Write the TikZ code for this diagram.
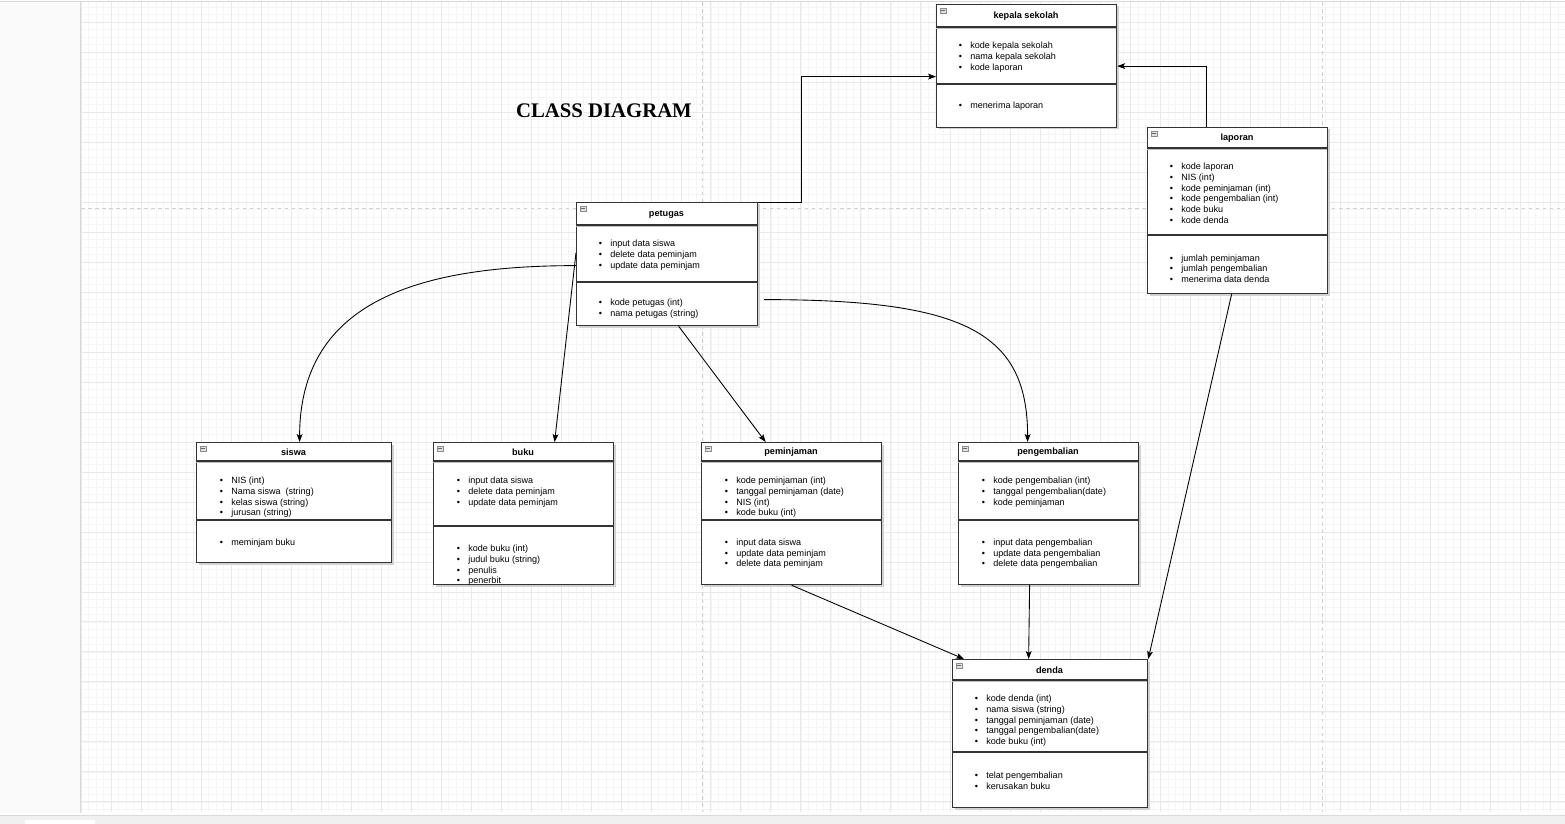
\documentclass[tikz,border=0pt]{standalone}
\usepackage{fontspec}
\setmainfont{Liberation Sans}
\newfontfamily\judulfont{Liberation Serif}
\usetikzlibrary{arrows.meta}

\definecolor{garis}{HTML}{333333}
\definecolor{grida}{HTML}{F5F5F5}
\definecolor{gridb}{HTML}{E9E9E9}

\tikzset{
  kotak/.style={draw=garis, line width=0.7pt, fill=white, inner sep=0pt, anchor=north west},
  isi/.style={anchor=west, inner sep=0pt, align=left, xshift=0.03cm, yshift=-0.025cm, font=\fontsize{5.15}{6.2}\selectfont},
  judulkelas/.style={font=\fontsize{5.2}{6}\selectfont\bfseries, inner sep=0pt, yshift=-0.02cm},
  panah/.style={-{Stealth[length=4.5pt,width=3.3pt,inset=1pt]}, line width=0.5pt, black},
  putus/.style={black!18, line width=0.4pt, dash pattern=on 2pt off 2pt},
}

% bullet item
\newcommand{\itm}[1]{\makebox[0.23cm][l]{\textbullet}#1}

% class frame: name, x, y, w, h, header, divider, title
\newcommand{\kelas}[8]{%
  \fill[black!18] (#2+2.5,#3+2.5) rectangle (#2+#4+2.5,#3+#5+2.5);
  \node[kotak, minimum width=#4*0.02cm, minimum height=#5*0.02cm] (#1) at (#2,#3) {};
  \draw[black!25, line width=0.6pt] (#2,#3+#6+1.8) -- (#2+#4,#3+#6+1.8);
  \draw[garis, line width=0.7pt] (#2,#3+#6) -- (#2+#4,#3+#6);
  \draw[garis, line width=0.7pt] (#2,#3+#7) -- (#2+#4,#3+#7);
  \draw[black!45, fill=black!12, line width=0.3pt] (#2+4,#3+4) rectangle (#2+10,#3+9);
  \draw[black!60, line width=0.4pt] (#2+5,#3+6.5) -- (#2+9,#3+6.5);
  \node[judulkelas] (#1-judul) at (#2+#4/2,#3+#6/2) {#8};
}

\begin{document}
\begin{tikzpicture}[x=0.02cm, y=-0.02cm]
\useasboundingbox (0,0) rectangle (1565,824);
\fill[white] (0,0) rectangle (1565,824);

% canvas
\fill[black!2] (0,0) rectangle (80,813);
\draw[black!15, line width=0.5pt] (80.5,2) -- (80.5,813);
\draw[black!15, line width=0.5pt] (0,1.5) -- (1565,1.5);
\begin{scope}[shift={(81,22)}]
\draw[grida, line width=0.35pt, step=0.15cm] (0,-20) grid (1484,790);
\draw[gridb, line width=0.45pt, step=0.6cm] (0,-20) grid (1484,790);
\end{scope}
\draw[putus] (702,2) -- (702,812);
\draw[putus] (1322,2) -- (1322,812);
\draw[putus] (81,208) -- (1565,208);
\fill[black!6] (0,815) rectangle (1565,824);
\draw[black!15, line width=0.5pt] (0,815) -- (1565,815);
\fill[white] (25,819.5) rectangle (95,824);

\node[font=\judulfont\fontsize{11.8}{13}\selectfont\bfseries] (judul) at (604,111) {CLASS DIAGRAM};

% classes
\kelas{kepala}{936}{4}{180}{123}{23}{80}{kepala sekolah}
\node[isi] (kepala-a) at (957,56) {\itm{kode kepala sekolah}\\\itm{nama kepala sekolah}\\\itm{kode laporan}};
\node[isi] (kepala-m) at (957,105) {\itm{menerima laporan}};

\kelas{laporan}{1147}{127}{180}{166}{21}{108}{laporan}
\node[isi] (laporan-a) at (1168,192) {\itm{kode laporan}\\\itm{NIS (int)}\\\itm{kode peminjaman (int)}\\\itm{kode pengembalian (int)}\\\itm{kode buku}\\\itm{kode denda}};
\node[isi] (laporan-m) at (1168,267.5) {\itm{jumlah peminjaman}\\\itm{jumlah pengembalian}\\\itm{menerima data denda}};

\kelas{petugas}{576}{202}{181}{123}{23}{80}{petugas}
\node[isi] (petugas-a) at (597,254) {\itm{input data siswa}\\\itm{delete data peminjam}\\\itm{update data peminjam}};
\node[isi] (petugas-m) at (597,307.5) {\itm{kode petugas (int)}\\\itm{nama petugas (string)}};

\kelas{siswa}{196}{442}{195}{120}{19}{78}{siswa}
\node[isi] (siswa-a) at (218,496) {\itm{NIS (int)}\\\itm{Nama siswa~ (string)}\\\itm{kelas siswa (string)}\\\itm{jurusan (string)}};
\node[isi] (siswa-m) at (218,542) {\itm{meminjam buku}};

\kelas{buku}{433}{442}{180}{142}{19}{84}{buku}
\node[isi] (buku-a) at (455,491) {\itm{input data siswa}\\\itm{delete data peminjam}\\\itm{update data peminjam}};
\node[isi] (buku-m) at (455,564) {\itm{kode buku (int)}\\\itm{judul buku (string)}\\\itm{penulis}\\\itm{penerbit}};

\kelas{peminjaman}{701}{442}{180}{142}{19}{78}{peminjaman}
\node[isi] (peminjaman-a) at (723,496) {\itm{kode peminjaman (int)}\\\itm{tanggal peminjaman (date)}\\\itm{NIS (int)}\\\itm{kode buku (int)}};
\node[isi] (peminjaman-m) at (723,552.5) {\itm{input data siswa}\\\itm{update data peminjam}\\\itm{delete data peminjam}};

\kelas{pengembalian}{958}{442}{180}{142}{19}{78}{pengembalian}
\node[isi] (pengembalian-a) at (980,491) {\itm{kode pengembalian (int)}\\\itm{tanggal pengembalian(date)}\\\itm{kode peminjaman}};
\node[isi] (pengembalian-m) at (980,552.5) {\itm{input data pengembalian}\\\itm{update data pengembalian}\\\itm{delete data pengembalian}};

\kelas{denda}{952}{659}{195}{148}{21}{93}{denda}
\node[isi] (denda-a) at (973,719.5) {\itm{kode denda (int)}\\\itm{nama siswa (string)}\\\itm{tanggal peminjaman (date)}\\\itm{tanggal pengembalian(date)}\\\itm{kode buku (int)}};
\node[isi] (denda-m) at (973,779.5) {\itm{telat pengembalian}\\\itm{kerusakan buku}};

% relations
\draw[panah] (petugas.north east) -- ++(43,0) |- ([yshift=-0.21cm]kepala.west);
\draw[panah] ([xshift=-0.62cm]laporan.north) |- (kepala.east);
\draw[panah] ([yshift=-0.03cm]petugas.west) .. controls +(-155,0) and +(0,-142) .. ([xshift=0.11cm]siswa.north);
\draw[panah] ([yshift=0.23cm]petugas.west) -- ([xshift=0.62cm]buku.north);
\draw[panah] ([xshift=0.23cm]petugas.south) -- ([xshift=-0.52cm]peminjaman.north);
\draw[panah] ([xshift=0.12cm,yshift=-0.71cm]petugas.east) .. controls +(200,0) and +(0,-110) .. ([xshift=-0.42cm]pengembalian.north);
\draw[panah] (peminjaman.south) -- ([xshift=0.24cm]denda.north west);
\draw[panah] ([xshift=-0.38cm]pengembalian.south) -- ([xshift=-0.43cm]denda.north);
\draw[panah] ([xshift=-0.12cm]laporan.south) -- (denda.north east);
\end{tikzpicture}
\end{document}
